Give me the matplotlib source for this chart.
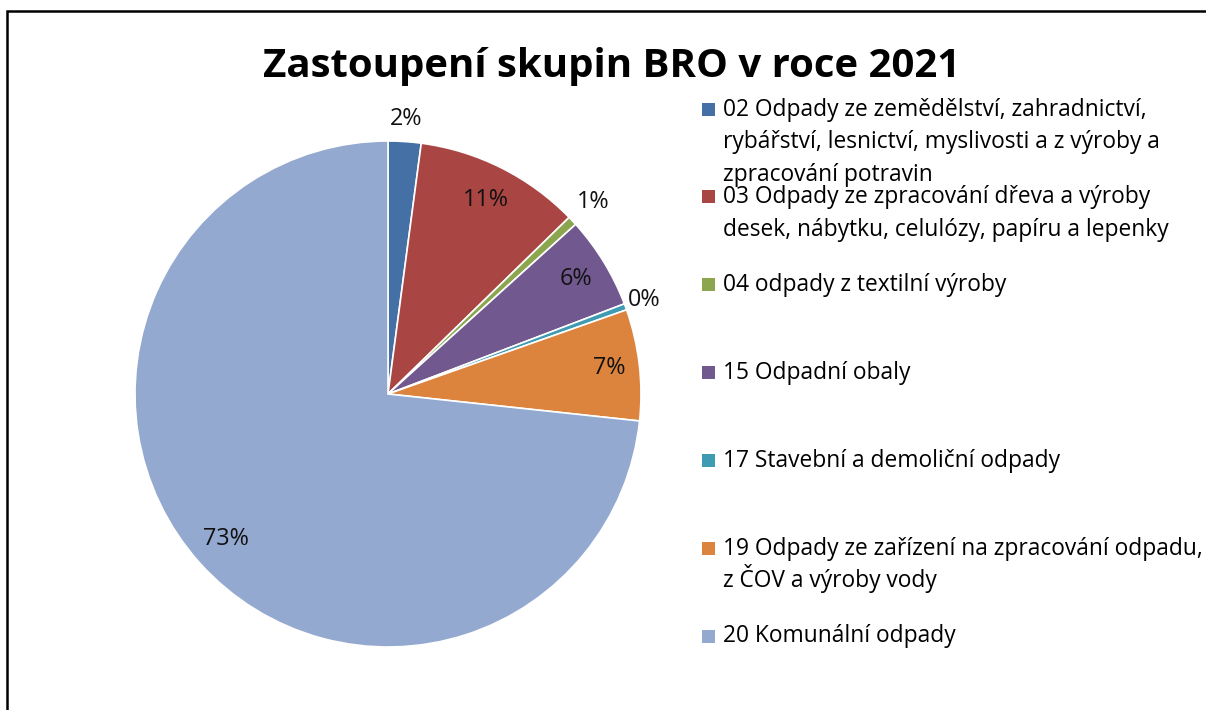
import matplotlib
matplotlib.use("Agg")
import matplotlib.pyplot as plt
from matplotlib.patches import Rectangle
import numpy as np

# ---- data ----
categories = [
    "02 Odpady ze zemědělství, zahradnictví,\nrybářství, lesnictví, myslivosti a z výroby a\nzpracování potravin",
    "03 Odpady ze zpracování dřeva a výroby\ndesek, nábytku, celulózy, papíru a lepenky",
    "04 odpady z textilní výroby",
    "15 Odpadní obaly",
    "17 Stavební a demoliční odpady",
    "19 Odpady ze zařízení na zpracování odpadu,\nz ČOV a výroby vody",
    "20 Komunální odpady",
]
shares = [2.1, 10.6, 0.6, 5.9, 0.4, 7.1, 73.3]
colors = ["#4470A6", "#A94643", "#8BA64F", "#71588F", "#3F9BB2", "#DC843E", "#94A9D0"]
title = "Zastoupení skupin BRO v roce 2021"

# ---- layout ----
W, H = 1206, 710
FONT = "Open Sans"
fig = plt.figure(figsize=(W / 100, H / 100), dpi=100)
fig.patch.set_facecolor("white")

def fx(px):
    return px / W

def fy(py):
    return 1 - py / H

# frame (extends past right/bottom edges)
fig.patches.append(Rectangle((fx(7), fy(H + 20)), fx(W + 40), (H + 9) / H,
                             transform=fig.transFigure, fill=False,
                             edgecolor="black", linewidth=1.8))

# pie
cx, cy, r = 388, 394, 253
ax = fig.add_axes([fx(cx - r), fy(cy + r), 2 * r / W, 2 * r / H])
wedges, _ = ax.pie(shares, colors=colors, startangle=90, counterclock=False,
                   radius=1.0, wedgeprops=dict(edgecolor="white", linewidth=1.2))
ax.set_xlim(-1, 1)
ax.set_ylim(-1, 1)
ax.set_aspect("equal")
ax.axis("off")

label_r = [1.09, 0.86, 1.11, 0.87, 1.08, 0.88, 0.86]
for w, v, lr in zip(wedges, shares, label_r):
    ang = np.deg2rad((w.theta1 + w.theta2) / 2)
    ax.text(lr * np.cos(ang), lr * np.sin(ang), f"{v:.0f}%",
            ha="center", va="center", fontsize=16.8, family=FONT, color="#111111")

# title
fig.text(fx(612), fy(77), title, ha="center", va="baseline",
         fontsize=28.9, fontweight="bold", family=FONT, color="black")

# legend (manual)
base0, step, line_h = 115.7, 87.8, 32.7
sq = 13
for i, (lab, col) in enumerate(zip(categories, colors)):
    b = base0 + step * i
    fig.patches.append(Rectangle((fx(702), fy(b)), sq / W, sq / H,
                                 transform=fig.transFigure, facecolor=col,
                                 edgecolor="none"))
    for k, line in enumerate(lab.split("\n")):
        fig.text(fx(723), fy(b + k * line_h), line, ha="left", va="baseline",
                 fontsize=16.4, family=FONT, color="black")

fig.savefig("out.png", dpi=100)
